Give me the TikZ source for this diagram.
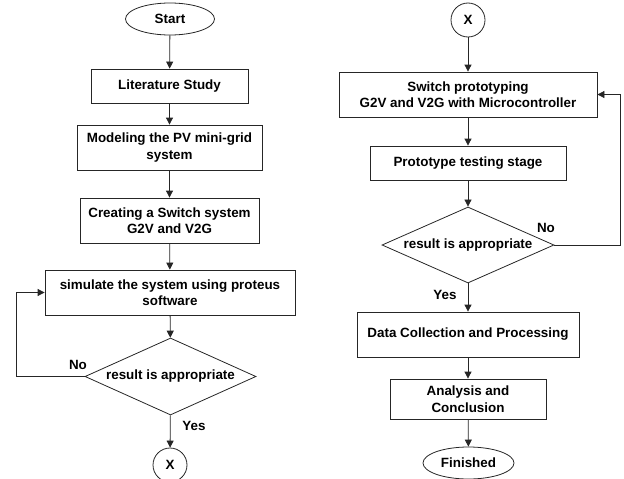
\documentclass[tikz,border=0pt]{standalone}
\usepackage{fontspec}
\setmainfont{Liberation Sans}
\usetikzlibrary{arrows.meta,shapes.geometric}
\begin{document}
\begin{tikzpicture}[x=1pt,y=-1pt,
  every node/.style={font=\fontsize{13.4}{16.5}\selectfont\bfseries, text=black, inner sep=0pt},
  ln/.style={draw=black!85, line width=0.8pt},
  proc/.style={ln, rectangle, align=center},
  term/.style={ln, ellipse},
  conn/.style={ln, circle, minimum size=34pt},
  dec/.style={ln, diamond, shape aspect=2.2},
  arr/.style={ln, -{Triangle[length=7pt,width=7pt]}},
  lbl/.style={}]
\useasboundingbox (0,0) rectangle (624,479);
% left column
\node[term, minimum width=89pt, minimum height=32pt] (start) at (170,19) {Start};
\node[proc, minimum width=157pt, minimum height=34pt] (lit) at (169.5,86) {Literature Study};
\node[proc, minimum width=185pt, minimum height=45pt] (model) at (169.5,147.5) {Modeling the PV mini-grid\\system};
\node[proc, minimum width=179pt, minimum height=45pt] (create) at (169.5,220.5) {Creating a Switch system\\G2V and V2G};
\node[proc, minimum width=250pt, minimum height=45pt] (sim) at (170,292.5) {simulate the system using proteus\\software};
\node[dec, minimum width=171pt, minimum height=77pt] (dec1) at (170.5,376.5) {result is appropriate};
\node[conn] (x1) at (170,465) {X};
\node[lbl] (no1) at (78,365) {No};
\node[lbl] (yes1) at (194,426) {Yes};
\coordinate (l1) at (16,376.5);
\draw[arr] (start) -- (lit);
\draw[arr] (lit) -- (model);
\draw[arr] (model) -- (create);
\draw[arr] (create) -- (sim);
\draw[arr] (sim) -- (dec1);
\draw[arr] (dec1) -- (x1);
\draw[arr] (dec1.west) -- (l1) |- (sim.west);
% right column
\node[conn] (x2) at (468,20) {X};
\node[proc, minimum width=258pt, minimum height=45pt] (swp) at (468,94.5) {Switch prototyping\\G2V and V2G with Microcontroller};
\node[proc, minimum width=196pt, minimum height=34pt] (pts) at (468,163) {Prototype testing stage};
\node[dec, minimum width=172pt, minimum height=76pt] (dec2) at (468,245) {result is appropriate};
\node[proc, minimum width=222pt, minimum height=45pt] (data) at (468,334.5) {Data Collection and Processing};
\node[proc, minimum width=156pt, minimum height=40pt] (ana) at (468,399) {Analysis and\\Conclusion};
\node[term, minimum width=91pt, minimum height=32pt] (fin) at (468.5,463) {Finished};
\node[lbl] (no2) at (546,228) {No};
\node[lbl] (yes2) at (445,295) {Yes};
\coordinate (r1) at (620,245);
\draw[arr] (x2) -- (swp);
\draw[arr] (swp) -- (pts);
\draw[arr] (pts) -- (dec2);
\draw[arr] (dec2) -- (data);
\draw[arr] (data) -- (ana);
\draw[arr] (ana) -- (fin);
\draw[arr] (dec2.east) -- (r1) |- (swp.east);
\end{tikzpicture}
\end{document}
